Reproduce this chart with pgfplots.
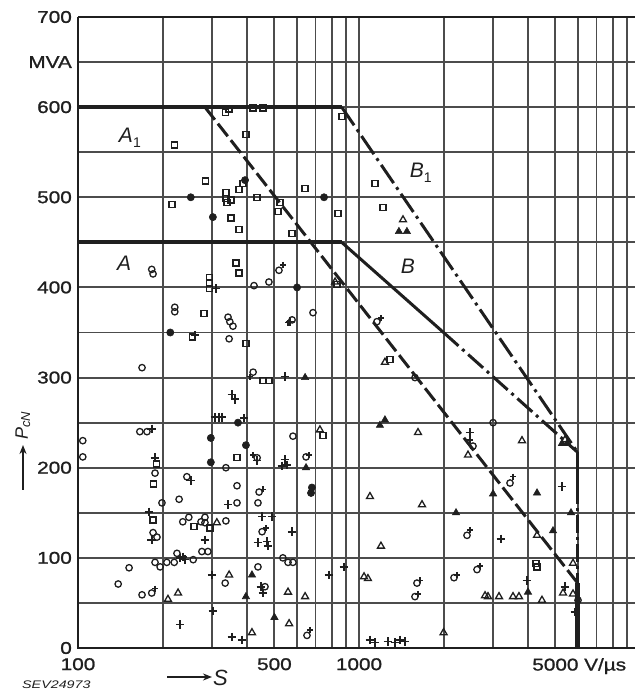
\documentclass[border=0pt]{standalone}
\usepackage{pgfplots}
\pgfplotsset{compat=1.18}
\usepackage{fontspec}
\setmainfont{Liberation Sans}
\newfontfamily\tickfont[FakeStretch=1.22, FakeBold=1.2]{Liberation Sans}
\newfontfamily\widefont[FakeStretch=1.3]{Liberation Sans}
\usetikzlibrary{arrows.meta}
\definecolor{ink}{gray}{0.12}
\definecolor{gridink}{gray}{0.3}

\begin{document}
\begin{tikzpicture}
\path[use as bounding box] (-78pt,-43pt) rectangle (557pt,648pt);
\begin{axis}[
  scale only axis, width=557pt, height=631pt,
  xmode=log, xmin=100, xmax=9600, ymin=0, ymax=700,
  clip=false,
  axis line style={draw=none},
  xtick={100,500,1000,5000},
  minor xtick={200,300,400,600,700,800,900,2000,3000,4000,6000,7000,8000,9000},
  xticklabels={100,500,1000,5000\rlap{\ V/µs}},
  ytick={0,50,...,700},
  yticklabels={0,,100,,200,,300,,400,,500,,600,MVA,700},
  major tick length=0pt, minor tick length=0pt,
  grid=both,
  grid style={draw=gridink, line width=1.9pt, solid},
  major grid style={draw=gridink, line width=1.9pt, solid},
  minor grid style={draw=gridink, line width=1.9pt, solid},
  tick label style={font=\tickfont\fontsize{17}{17}\selectfont, text=ink},
  xticklabel style={anchor=north, inner sep=0pt, yshift=-10pt},
  yticklabel style={anchor=east, inner sep=0pt, xshift=-6pt},
]
% frame: heavy left and bottom, lighter top
\draw[ink, line width=2.6pt] (rel axis cs:0,1) -- (rel axis cs:0,0) -- (rel axis cs:1,0);
\draw[ink, line width=1.9pt] (rel axis cs:0,1) -- (rel axis cs:1,1);

% limit curves: flat parts
\addplot[ink, line width=3.8pt] coordinates {(100,600) (868,600)};
\addplot[ink, line width=3.8pt] coordinates {(100,450) (868,450)};
% A / A1 descending branch
\addplot[ink, line width=3pt, dash pattern=on 16pt off 5pt] coordinates {(283,600) (6000,72)};
% B1 descending branch
\addplot[ink, line width=3pt, dash pattern=on 22pt off 5pt on 3pt off 5pt] coordinates {(868,600) (6000,217)};
% B descending branch
\addplot[ink, line width=3pt] coordinates {(868,450) (2000,350)};
\addplot[ink, line width=3pt, dash pattern=on 20pt off 5pt on 3pt off 5pt] coordinates {(2000,350) (6000,217)};
% vertical limit
\addplot[ink, line width=3pt] coordinates {(6000,217) (6000,180)};
\addplot[ink, line width=3pt, dash pattern=on 18pt off 4pt on 3pt off 4pt] coordinates {(6000,180) (6000,72)};
\addplot[ink, line width=5pt] coordinates {(6000,72) (6000,0)};

% measured points
\addplot[only marks, mark=o, mark size=3.2pt, ink, mark options={line width=1.3pt}] coordinates {
(183,420) (185,415) (423,402) (478,406) (686,372) (221,378) (221,373) (342,367)
(347,362) (356,357) (345,343) (169,311) (104,230) (104,212) (166,240) (176,240)
(582,235) (336,200) (368,180) (244,190) (229,165) (199,161) (188,194) (185,128)
(191,123) (236,140) (248,145) (274,140) (283,139) (283,145) (336,141) (207,95)
(220,95) (225,105) (257,98) (276,107) (290,107) (188,95) (196,90) (334,72)
(437,90) (463,68) (536,100) (559,95) (582,95) (139,71) (152,89) (169,59)
(3000,250) (1582,300) (6018,53) (368,161) (437,161)};

\addplot[only marks, mark=square, mark size=3pt, ink, mark options={line width=1.3pt}] coordinates {
(334,594) (345,598) (420,599) (455,599) (870,590) (396,570) (220,558) (285,518)
(216,492) (336,505) (336,499) (339,494) (350,497) (374,509) (387,515) (434,500)
(350,477) (374,464) (643,510) (523,494) (515,484) (578,460) (842,482) (1140,515)
(1217,489) (365,427) (374,416) (293,411) (293,405) (293,399) (281,371) (255,345)
(396,338) (455,297) (478,297) (368,211) (190,204) (186,182) (185,142) (259,135)
(295,133) (1289,320) (745,236) (835,403) (4266,94) (4302,90)};

\addplot[only marks, mark=*, mark size=3.6pt, ink, mark options={fill=ink, line width=0.6pt}] coordinates {
(252,500) (751,500) (393,519) (602,400) (213,350) (371,250) (297,233) (396,225)
(297,206) (675,172) (680,178) (302,478)};

\addplot[only marks, mark=triangle, mark size=4pt, ink, mark options={line width=1.3pt}] coordinates {
(1434,475) (822,406) (726,242) (345,81) (227,61) (209,54) (643,57) (564,27)
(416,17) (1237,317) (1622,239) (2443,214) (1094,168) (1676,159) (1197,113) (1042,79)
(1076,77) (2000,17) (3803,230) (4301,125) (5776,94) (2809,58) (2878,57) (3150,57)
(3533,57) (3710,57) (4479,53) (5322,61) (5776,60) (559,62) (312,139) (5410,231)};

\addplot[only marks, mark=triangle*, mark size=4.2pt, ink, mark options={fill=ink, line width=0.6pt}] coordinates {
(1387,462) (1481,462) (643,300) (1187,247) (1237,253) (648,200) (2215,150) (3000,171)
(4301,172) (5682,150) (4903,130) (3995,62) (396,57) (500,34) (416,81) (5278,227)
(5499,227)};

\addplot[only marks, mark=+, mark size=4.3pt, ink, mark options={line width=1.6pt}] coordinates {
(310,399) (545,301) (353,281) (362,276) (307,256) (318,256) (325,256) (390,255)
(183,243) (188,211) (434,208) (545,209) (532,202) (554,203) (252,186) (179,151)
(183,120) (283,120) (231,100) (240,98) (300,81) (302,41) (231,26) (353,12)
(383,9) (452,146) (490,146) (437,117) (471,118) (475,113) (578,129) (782,81)
(884,90) (448,68) (455,61) (2483,239) (5278,179) (3202,121) (3962,75) (5410,68)
(5872,40) (1094,9) (1140,6) (1268,7) (1343,6) (1399,9) (1457,7) (568,362)
(261,347) (236,101) (342,159)};

% circle-with-stroke points: ring and attached cross
\addplot[only marks, mark=o, mark size=3.2pt, ink, mark options={line width=1.3pt}] coordinates {
(519,419) (578,364) (420,306) (648,212) (434,211) (2423,125) (2545,224) (3447,183)
(1608,72) (1582,57) (2178,78) (2630,87) (653,14) (452,129) (1158,362) (183,61)
(441,173)};
\addplot[only marks, mark=+, mark size=3pt, ink, mark options={line width=1.5pt}] coordinates {
(536,425) (559,361) (409,301) (664,214) (420,214) (2483,131) (2483,231) (3533,190)
(1649,75) (1622,60) (2233,81) (2696,91) (669,20) (467,133) (1197,366) (188,66)
(455,176)};

% curve names
\node[text=ink, font=\itshape\fontsize{21}{21}\selectfont] at (axis cs:153,566)
  {A\raisebox{-5pt}{\upshape\fontsize{14}{14}\selectfont 1}};
\node[text=ink, font=\itshape\fontsize{21}{21}\selectfont] at (axis cs:146,427) {A};
\node[text=ink, font=\itshape\fontsize{21}{21}\selectfont] at (axis cs:1658,527)
  {B\raisebox{-5pt}{\upshape\fontsize{14}{14}\selectfont 1}};
\node[text=ink, font=\itshape\fontsize{21}{21}\selectfont] at (axis cs:1494,423) {B};
\end{axis}

% axis names with arrows
\draw[ink, line width=1.6pt, -{Stealth[length=9pt,width=7pt]}] (-55pt,158pt) -- (-55pt,203pt);
\node[rotate=90, anchor=base west, inner sep=0pt, text=ink,
      font=\itshape\fontsize{18}{18}\selectfont] at (-50pt,208pt)
  {P\raisebox{-2pt}{\fontsize{13}{13}\selectfont cN}};
\draw[ink, line width=1.6pt, -{Stealth[length=9pt,width=7pt]}] (89pt,-29pt) -- (134pt,-29pt);
\node[anchor=west, inner sep=0pt, text=ink, font=\itshape\fontsize{22}{22}\selectfont]
  at (135pt,-30pt) {S};
\node[anchor=west, inner sep=0pt, text=ink, font=\widefont\itshape\fontsize{11}{11}\selectfont]
  at (-56pt,-36.5pt) {SEV24973};
\end{tikzpicture}
\end{document}
